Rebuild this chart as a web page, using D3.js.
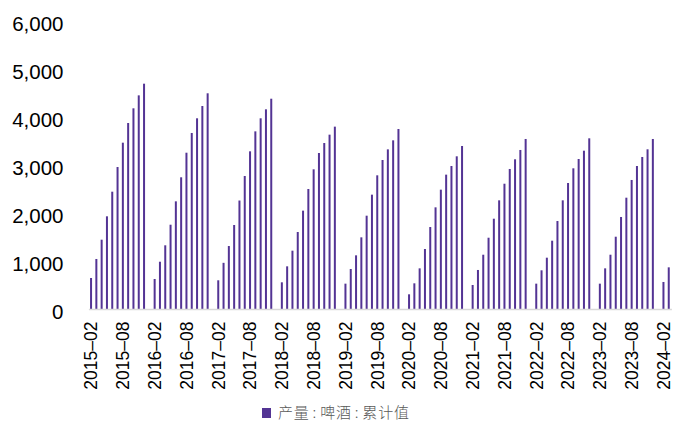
<!DOCTYPE html>
<html>
<head>
<meta charset="utf-8">
<script src="https://cdn.jsdelivr.net/npm/d3@7"></script>
<style>
  html, body { margin: 0; padding: 0; background: #fff; }
  svg { display: block; }
</style>
</head>
<body>
<svg id="chart" width="673" height="425"></svg>
<script>
// Beer output, cumulative year-to-date (Feb–Dec each year; January is reported with February)
const years = [2015, 2016, 2017, 2018, 2019, 2020, 2021, 2022, 2023, 2024];
const v2015 = [646, 1042, 1444, 1931, 2444, 2958, 3465, 3875, 4181, 4451, 4694];
const v2016 = [625, 985, 1327, 1756, 2243, 2744, 3256, 3667, 3973, 4229, 4494];
const v2017 = [598, 962, 1312, 1750, 2260, 2771, 3285, 3701, 3973, 4160, 4381];
const v2018 = [556, 889, 1215, 1604, 2049, 2500, 2910, 3250, 3458, 3632, 3799];
const v2019 = [528, 833, 1118, 1493, 1944, 2382, 2785, 3104, 3326, 3514, 3750];
const v2020 = [306, 535, 847, 1250, 1708, 2118, 2486, 2799, 2979, 3181, 3396];
const v2021 = [500, 813, 1131, 1485, 1881, 2264, 2610, 2917, 3119, 3313, 3542];
const v2022 = [528, 806, 1069, 1423, 1833, 2264, 2625, 2931, 3125, 3298, 3556];
const v2023 = [528, 847, 1131, 1506, 1917, 2319, 2688, 2979, 3167, 3327, 3542];
const v2024 = [563, 868];
const yearValues = [v2015, v2016, v2017, v2018, v2019, v2020, v2021, v2022, v2023, v2024];

const tickLabels = [
  "2015-02", "2015-08", "2016-02", "2016-08", "2017-02", "2017-08", "2018-02",
  "2018-08", "2019-02", "2019-08", "2020-02", "2020-08", "2021-02", "2021-08",
  "2022-02", "2022-08", "2023-02", "2023-08", "2024-02"
];
const yTicks = [0, 1000, 2000, 3000, 4000, 5000, 6000];
const seriesName = "产量:啤酒:累计值";

// Monthly categories from 2015-02; January slots stay empty
const rows = [];
yearValues.forEach((vals, yi) => {
  const yr = years[yi];
  if (yi > 0) rows.push({ key: yr + "-01", value: null });
  vals.forEach((v, mi) => {
    const m = String(mi + 2).padStart(2, "0");
    rows.push({ key: yr + "-" + m, value: v });
  });
});

const svg = d3.select("#chart");
const margin = { left: 88.4, right: 1.6, top: 21, bottom: 116 };
const W = 673, H = 425;

const x = d3.scaleBand()
  .domain(rows.map(d => d.key))
  .range([margin.left, W - margin.right])
  .padding(0);

const y = d3.scaleLinear()
  .domain([0, 6000])
  .range([H - margin.bottom, margin.top]);

const barColor = "#533494";
const barW = 2;

// Bars
svg.append("g")
  .selectAll("rect")
  .data(rows.filter(d => d.value != null))
  .join("rect")
  .attr("x", d => x(d.key) + x.bandwidth() / 2 - barW / 2)
  .attr("y", d => y(d.value))
  .attr("width", barW)
  .attr("height", d => y(0) - y(d.value))
  .attr("fill", barColor);

// Category axis
const xAxis = d3.axisBottom(x)
  .tickValues(tickLabels)
  .tickSize(0)
  .tickFormat(d => d.replace("-", "–"));

const gx = svg.append("g")
  .attr("transform", `translate(0,${y(0)})`)
  .call(xAxis);
gx.select(".domain")
  .attr("stroke", "#d9d9d9")
  .attr("stroke-width", 1.5);
gx.selectAll(".tick text")
  .attr("font-family", "'Liberation Sans', Arial, sans-serif")
  .attr("font-size", 17.5)
  .attr("fill", "#000")
  .attr("text-anchor", "end")
  .attr("transform", "rotate(-90)")
  .attr("x", -12.5)
  .attr("y", 0)
  .attr("dy", "0.36em");

// Value axis (labels only)
const yAxis = d3.axisLeft(y)
  .tickValues(yTicks)
  .tickSize(0)
  .tickFormat(d3.format(","));

const gy = svg.append("g")
  .attr("transform", `translate(63.5,0)`)
  .call(yAxis);
gy.select(".domain").remove();
gy.selectAll(".tick text")
  .attr("font-family", "'Liberation Sans', Arial, sans-serif")
  .attr("font-size", 20.5)
  .attr("fill", "#000")
  .attr("x", 0)
  .attr("dy", "0.44em");

// Legend
const legend = svg.append("g").attr("transform", "translate(262,408)");
legend.append("rect")
  .attr("width", 9)
  .attr("height", 10)
  .attr("fill", barColor);
const lt = legend.append("text")
  .attr("x", 16)
  .attr("y", 5)
  .attr("dy", "0.36em")
  .attr("font-family", "'Noto Sans CJK SC', sans-serif")
  .attr("font-size", 15)
  .attr("font-weight", 300)
  .attr("letter-spacing", 0.8)
  .attr("fill", "#595959");
// Give the half-width colons a little room on each side
seriesName.split(":").forEach((part, i) => {
  if (i > 0) lt.append("tspan").attr("dx", 3).text(":");
  lt.append("tspan").attr("dx", i > 0 ? 3 : 0).text(part);
});
</script>
</body>
</html>
